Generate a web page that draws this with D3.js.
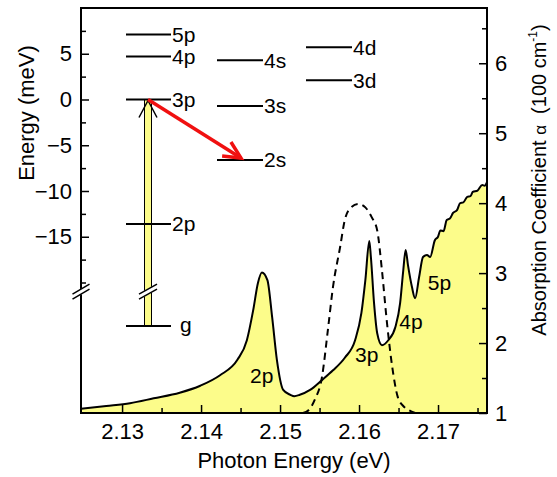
<!DOCTYPE html>
<html>
<head>
<meta charset="utf-8">
<script src="https://cdn.jsdelivr.net/npm/d3@7"></script>
<style>
  body { margin: 0; background: #fff; }
  svg text { font-family: "Liberation Sans", Arial, sans-serif; fill: #000; }
</style>
</head>
<body>
<div class="graph"></div>
<script>
// absorption spectrum (solid, filled)
const photonEnergy = [2.1248, 2.1280, 2.1310, 2.1340, 2.1373, 2.1399, 2.1424, 2.1446, 2.1458, 2.1466,
    2.1472, 2.1477, 2.1484, 2.1490, 2.1496, 2.1504, 2.1513, 2.1518, 2.1525, 2.1538,
    2.1553, 2.1567, 2.1582, 2.1595, 2.1603, 2.1608, 2.1613, 2.1615, 2.1619, 2.1623,
    2.1629, 2.1637, 2.1646, 2.1652, 2.1656, 2.1659, 2.1662, 2.1667, 2.1671, 2.1676,
    2.1681, 2.1686, 2.1690, 2.1696, 2.1700, 2.1703, 2.1707, 2.1711, 2.1715, 2.1719,
    2.1724, 2.1728, 2.1732, 2.1737, 2.1741, 2.1744, 2.1750, 2.1756, 2.1759, 2.1762];
const absorption = [1.06, 1.10, 1.14, 1.21, 1.29, 1.39, 1.54, 1.76, 2.04, 2.47,
    2.86, 3.01, 2.90, 2.37, 1.76, 1.33, 1.26, 1.24, 1.26, 1.33,
    1.47, 1.61, 1.79, 2.04, 2.43, 2.90, 3.46, 3.23, 2.57, 2.14,
    1.97, 2.04, 2.23, 2.57, 3.04, 3.33, 3.11, 2.80, 2.64, 2.94,
    3.23, 3.26, 3.23, 3.47, 3.52, 3.61, 3.60, 3.76, 3.78, 3.86,
    3.90, 4.00, 4.01, 4.09, 4.10, 4.16, 4.18, 4.26, 4.25, 4.30];

// laser spectrum (dashed)
const laserEnergy = [2.1529, 2.1536, 2.1544, 2.1553, 2.1561, 2.1567, 2.1576, 2.1582, 2.1590, 2.1599,
    2.1608, 2.1616, 2.1623, 2.1629, 2.1635, 2.1642, 2.1649, 2.1656, 2.1663, 2.1671];
const laserProfile = [1.00, 1.04, 1.19, 1.51, 2.23, 2.80, 3.37, 3.76, 3.94, 3.99,
    3.94, 3.80, 3.61, 3.04, 2.33, 1.66, 1.23, 1.10, 1.04, 1.00];

// peak labels (eV, alpha)
const peakLabels = ["2p", "3p", "4p", "5p"];
const peakLabelX = [2.1462, 2.1595, 2.1651, 2.1687];
const peakLabelY = [1.43, 1.73, 2.20, 2.76];

// level scheme (meV relative to 3p), column 0 = p, 1 = s, 2 = d
const levelNames = ["5p", "4p", "3p", "2p", "4s", "3s", "2s", "4d", "3d"];
const levelEnergy = [7.1, 4.7, 0, -13.6, 4.3, -0.7, -6.6, 5.7, 2.1];
const levelColumn = [0, 0, 0, 0, 1, 1, 1, 2, 2];
const groundEnergy = -24.75; // drawn below the axis break
const breakEnergy = -21;

const energyTicks = [5, 0, -5, -10, -15];
const energyMinor = [7.5, 2.5, -2.5, -7.5, -12.5, -17.5, -20];
const photonTicks = [2.13, 2.14, 2.15, 2.16, 2.17];
const photonMinor = [2.135, 2.145, 2.155, 2.165, 2.175];
const alphaTicks = [1, 2, 3, 4, 5, 6];
const alphaMinor = [1.5, 2.5, 3.5, 4.5, 5.5, 6.5];

const outerWidth = 557, outerHeight = 477,
    margin = { top: 8, right: 70, bottom: 64, left: 81 },
    width = outerWidth - margin.left - margin.right,
    height = outerHeight - margin.top - margin.bottom;

const svg = d3.select(".graph").append("svg")
    .attr("width", outerWidth)
    .attr("height", outerHeight)
    .append("g")
    .attr("transform", `translate(${margin.left},${margin.top})`);

const x = d3.scaleLinear().domain([2.1248, 2.1762]).range([0, width]);
const yA = d3.scaleLinear().domain([1, 6.79]).range([height, 0]);
const yE = d3.scaleLinear().domain([0, 10]).range([91.5, 0]);

svg.append("clipPath").attr("id", "clip")
    .append("rect").attr("width", width).attr("height", height);

const spec = photonEnergy.map((e, i) => ({ e: e, a: absorption[i] }));
const laser = laserEnergy.map((e, i) => ({ e: e, a: laserProfile[i] }));

const area = d3.area()
    .x(d => x(d.e)).y0(height).y1(d => yA(d.a))
    .curve(d3.curveMonotoneX);
const line = d3.line()
    .x(d => x(d.e)).y(d => yA(d.a))
    .curve(d3.curveMonotoneX);

const plot = svg.append("g").attr("clip-path", "url(#clip)");
plot.append("path").datum(spec).attr("d", area).attr("fill", "#fcfc8a");
plot.append("path").datum(spec).attr("d", line)
    .attr("fill", "none").attr("stroke", "#000").attr("stroke-width", 2);
plot.append("path").datum(laser).attr("d", line)
    .attr("fill", "none").attr("stroke", "#000").attr("stroke-width", 2)
    .attr("stroke-dasharray", "7,5");

// peak labels
svg.selectAll(".peak").data(peakLabels).enter().append("text")
    .attr("class", "peak")
    .attr("x", (d, i) => x(peakLabelX[i]))
    .attr("y", (d, i) => yA(peakLabelY[i]))
    .attr("font-size", 21)
    .text(d => d);

// axes
function styleAxis(g) {
    g.select(".domain").remove();
    g.selectAll(".tick line").attr("stroke", "#000").attr("stroke-width", 1.5);
    g.selectAll(".tick text").attr("font-family", "Liberation Sans, Arial, sans-serif").attr("fill", "#000");
}

svg.append("g").attr("transform", `translate(0,${height})`)
    .call(d3.axisBottom(x).tickValues(photonTicks).tickSize(-8).tickPadding(10).tickFormat(d3.format(".2f")))
    .attr("font-size", 22).call(styleAxis);
svg.append("g").attr("transform", `translate(0,${height})`)
    .call(d3.axisBottom(x).tickValues(photonMinor).tickSize(-5).tickFormat(""))
    .call(styleAxis);

svg.append("g").attr("transform", `translate(${width},0)`)
    .call(d3.axisRight(yA).tickValues(alphaTicks).tickSize(-8).tickPadding(8).tickFormat(d3.format("d")))
    .attr("font-size", 22).call(styleAxis);
svg.append("g").attr("transform", `translate(${width},0)`)
    .call(d3.axisRight(yA).tickValues(alphaMinor).tickSize(-5).tickFormat(""))
    .call(styleAxis);

svg.append("g")
    .call(d3.axisLeft(yE).tickValues(energyTicks).tickSize(-8).tickPadding(9))
    .attr("font-size", 22).call(styleAxis);
svg.append("g")
    .call(d3.axisLeft(yE).tickValues(energyMinor).tickSize(-5).tickFormat(""))
    .call(styleAxis);

// frame
svg.append("rect")
    .attr("width", width).attr("height", height)
    .attr("fill", "none").attr("stroke", "#000").attr("stroke-width", 2);

// axis break marks
function drawBreak(cx, cy, half) {
    const b = svg.append("g");
    b.append("path")
        .attr("d", `M${cx - half},${cy + 2} L${cx + half},${cy - 8} L${cx + half},${cy - 2} L${cx - half},${cy + 8} Z`)
        .attr("fill", "#fff");
    [-2.5, 2.5].forEach(o => {
        b.append("line")
            .attr("x1", cx - half).attr("y1", cy + 5 + o)
            .attr("x2", cx + half).attr("y2", cy - 5 + o)
            .attr("stroke", "#000").attr("stroke-width", 1.5);
    });
}

// level scheme
const colX = [[45, 90], [136, 182], [225, 271]];
const barX = 67;

svg.append("rect")
    .attr("x", barX - 3.5).attr("y", yE(0))
    .attr("width", 7).attr("height", yE(groundEnergy) - yE(0))
    .attr("fill", "#fcfc8a").attr("stroke", "#000").attr("stroke-width", 1);
svg.append("path")
    .attr("d", `M${barX - 9},${yE(0) + 18} L${barX},${yE(0) + 1} L${barX + 9},${yE(0) + 18}`)
    .attr("fill", "none").attr("stroke", "#000").attr("stroke-width", 1.5);

drawBreak(0, yE(breakEnergy), 8.5);
drawBreak(barX, yE(breakEnergy), 9);

svg.selectAll(".level").data(levelNames).enter().append("line")
    .attr("class", "level")
    .attr("x1", (d, i) => colX[levelColumn[i]][0])
    .attr("x2", (d, i) => colX[levelColumn[i]][1])
    .attr("y1", (d, i) => yE(levelEnergy[i]))
    .attr("y2", (d, i) => yE(levelEnergy[i]))
    .attr("stroke", "#000").attr("stroke-width", 2);
svg.selectAll(".levelText").data(levelNames).enter().append("text")
    .attr("class", "levelText")
    .attr("x", (d, i) => colX[levelColumn[i]][1] + 1)
    .attr("y", (d, i) => yE(levelEnergy[i]))
    .attr("dy", "0.35em")
    .attr("font-size", 21)
    .text(d => d);

svg.append("line")
    .attr("x1", colX[0][0]).attr("x2", colX[0][1])
    .attr("y1", yE(groundEnergy)).attr("y2", yE(groundEnergy))
    .attr("stroke", "#000").attr("stroke-width", 2);
svg.append("text")
    .attr("x", colX[0][1] + 9).attr("y", yE(groundEnergy))
    .attr("dy", "0.3em").attr("font-size", 21).text("g");

// red relaxation arrow 3p -> 2s
const x0 = barX, y0 = yE(0), x1 = 160, y1 = yE(-6.4);
const ang = Math.atan2(y1 - y0, x1 - x0);
svg.append("line")
    .attr("x1", x0).attr("y1", y0).attr("x2", x1).attr("y2", y1)
    .attr("stroke", "#f01010").attr("stroke-width", 3.5);
svg.append("path")
    .attr("d", `M${x1 - 19 * Math.cos(ang - 0.45)},${y1 - 19 * Math.sin(ang - 0.45)} L${x1},${y1} L${x1 - 19 * Math.cos(ang + 0.45)},${y1 - 19 * Math.sin(ang + 0.45)}`)
    .attr("fill", "none").attr("stroke", "#f01010").attr("stroke-width", 3.5)
    .attr("stroke-linejoin", "miter");

// axis titles
svg.append("text")
    .attr("transform", `translate(${294 - margin.left},${468 - margin.top})`)
    .attr("text-anchor", "middle").attr("font-size", 22)
    .text("Photon Energy (eV)");
svg.append("text")
    .attr("transform", `translate(${34 - margin.left},${113 - margin.top}) rotate(-90)`)
    .attr("text-anchor", "middle").attr("font-size", 22)
    .text("Energy (meV)");
const rt = svg.append("text")
    .attr("transform", `translate(${546 - margin.left},${180 - margin.top}) rotate(-90)`)
    .attr("text-anchor", "middle").attr("font-size", 20);
rt.append("tspan").text("Absorption Coefficient ");
rt.append("tspan").attr("font-size", 17).text("α");
rt.append("tspan").text("\u00a0\u00a0(100 cm");
rt.append("tspan").attr("font-size", 12).attr("dy", -9).text("-1");
rt.append("tspan").attr("dy", 9).text(")");
</script>
</body>
</html>
